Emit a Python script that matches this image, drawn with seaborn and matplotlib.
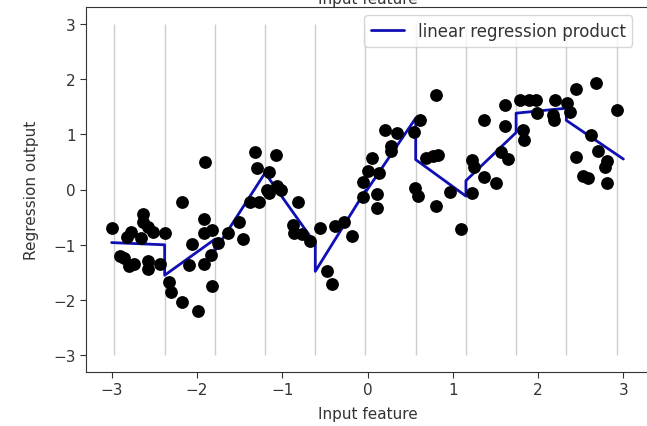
import numpy as np
import pandas as pd
import matplotlib
matplotlib.use("Agg")
import matplotlib.pyplot as plt
import seaborn as sns

# scatter data
x_data = [-2.99, -2.90, -2.86, -2.82, -2.80, -2.74, -2.77, -2.66, -2.63, -2.63,
          -2.57, -2.51, -2.57, -2.57, -2.43, -2.37,
          -2.33, -2.30, -2.18, -1.99, -2.18, -2.06, -2.09, -1.92, -1.92, -1.90,
          -1.82, -1.92, -1.84, -1.82,
          -1.75, -1.64, -1.51, -1.46, -1.38, -1.27, -1.32, -1.29,
          -1.15, -1.18, -1.15, -1.07, -1.06, -1.01, -0.82, -0.87, -0.86, -0.77, -0.67,
          -0.56, -0.47, -0.42, -0.38, -0.27, -0.18,
          -0.05, -0.05, 0.01, 0.05, 0.11, 0.11, 0.13, 0.21, 0.27, 0.27, 0.35,
          0.55, 0.62, 0.56, 0.59, 0.69, 0.77, 0.83, 0.80, 0.80, 0.97, 1.10,
          1.23, 1.23, 1.25, 1.36, 1.36, 1.51, 1.61, 1.61, 1.56, 1.65,
          1.79, 1.89, 1.98, 1.82, 1.83, 1.99, 2.20, 2.18, 2.19,
          2.34, 2.37, 2.44, 2.68, 2.92, 2.44, 2.62, 2.70, 2.81, 2.78, 2.53, 2.58, 2.81]
y_data = [-0.69, -1.21, -1.23, -0.85, -1.39, -1.35, -0.76, -0.87, -0.45, -0.58,
          -0.67, -0.76, -1.30, -1.44, -1.35, -0.78,
          -1.68, -1.86, -2.04, -2.20, -0.23, -0.99, -1.37, -0.53, -0.78, 0.49,
          -0.74, -1.35, -1.19, -1.75,
          -0.96, -0.78, -0.58, -0.90, -0.22, -0.22, 0.67, 0.38,
          0.31, 0.00, -0.07, 0.63, 0.06, 0.00, -0.23, -0.65, -0.78, -0.81, -0.94,
          -0.69, -1.47, -1.70, -0.66, -0.59, -0.84,
          0.13, -0.13, 0.33, 0.57, -0.33, -0.09, 0.29, 1.08, 0.78, 0.69, 1.03,
          1.04, 1.25, 0.03, -0.12, 0.57, 0.61, 0.63, 1.70, -0.29, -0.05, -0.72,
          -0.07, 0.54, 0.41, 1.26, 0.22, 0.11, 1.52, 1.14, 0.67, 0.56,
          1.61, 1.62, 1.62, 1.08, 0.90, 1.39, 1.61, 1.35, 1.26,
          1.57, 1.41, 1.82, 1.93, 1.44, 0.59, 0.99, 0.69, 0.52, 0.40, 0.25, 0.21, 0.11]

# bin edges and the regression line value at the start / end of each bin
bin_edges = [-2.967, -2.378, -1.790, -1.201, -0.612, -0.024, 0.565, 1.154, 1.742, 2.331, 2.920]
line_start = [-0.96, -1.55, -1.11, 0.30, -1.48, -0.05, 0.54, 0.16, 1.38, 1.25]
line_end = [-1.00, -0.90, 0.30, -0.98, -0.02, 1.29, -0.12, 1.03, 1.47, 0.55]
line_range = [-3.0, 3.0]

sns.set_style("ticks")
plt.rcParams['font.family'] = ['DejaVu Sans']
plt.rcParams['text.color'] = '#333333'
plt.rcParams['axes.labelcolor'] = '#333333'
plt.rcParams['xtick.color'] = '#333333'
plt.rcParams['ytick.color'] = '#333333'

fig = plt.figure(figsize=(6.47, 4.27), dpi=100)
ax = fig.add_axes([86 / 647, 1 - 373 / 427, 563 / 647, 365 / 427])

# vertical bin lines
ax.vlines(bin_edges, -3, 3, linewidth=1, alpha=.2, color="k")

# line polyline
lx, ly = [], []
for i in range(len(line_start)):
    x0 = line_range[0] if i == 0 else bin_edges[i]
    x1 = line_range[1] if i == len(line_start) - 1 else bin_edges[i + 1]
    lx += [x0, x1]
    ly += [line_start[i], line_end[i]]
line_df = pd.DataFrame({"x": lx, "y": ly})
sns.lineplot(data=line_df, x="x", y="y", sort=False, estimator=None,
             color="#0f0fb4", linewidth=2, label="linear regression product", ax=ax)

pts = pd.DataFrame({"x": x_data, "y": y_data})
sns.scatterplot(data=pts, x="x", y="y", color="k", s=85, edgecolor="k",
                linewidth=0, ax=ax, zorder=3)

ax.set_xlim(-3.3, 3.3)
ax.set_ylim(-3.3, 3.3)
ax.set_xticks([-3, -2, -1, 0, 1, 2, 3])
ax.set_yticks([-3, -2, -1, 0, 1, 2, 3])
ax.tick_params(labelsize=11, length=4)
ax.set_xlabel("Input feature", fontsize=11, labelpad=6)
ax.set_ylabel("Regression output", fontsize=11, labelpad=10)
ax.set_title("Input feature", pad=3, fontsize=11)
ax.legend(loc="upper right", bbox_to_anchor=(0.985, 1.0), fontsize=12)
for s in ax.spines.values():
    s.set_color("#333333")

fig.savefig("out.png", dpi=100)
